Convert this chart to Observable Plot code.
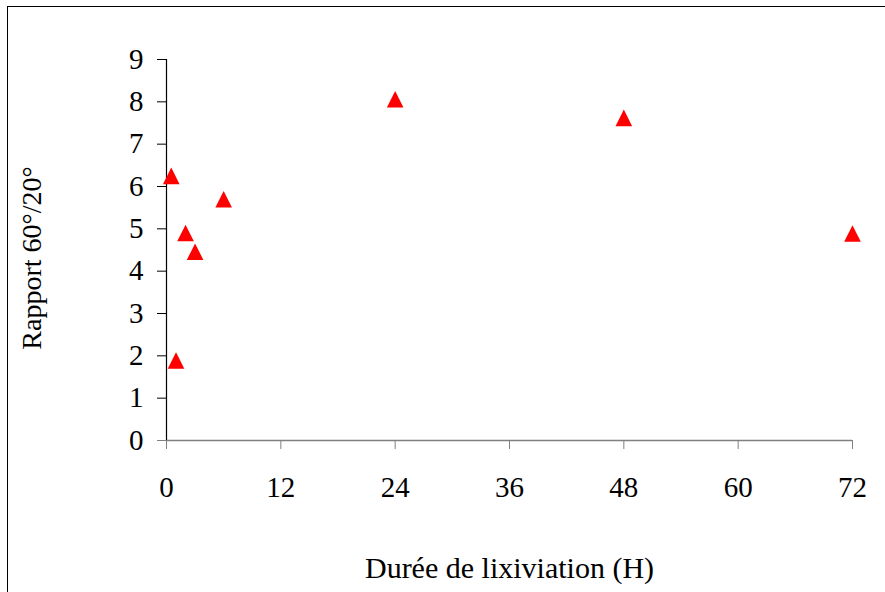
<!DOCTYPE html>
<html>
<head>
<meta charset="utf-8">
<script src="https://cdn.jsdelivr.net/npm/d3@7"></script>
<script src="https://cdn.jsdelivr.net/npm/@observablehq/plot@0.6"></script>
<style>
  html, body { margin: 0; padding: 0; background: #fff; }
  #wrap { position: relative; width: 885px; height: 592px; overflow: hidden; }
  #frame { position: absolute; left: 7px; top: 6px; width: 900px; height: 600px;
           border-left: 1.5px solid #000; border-top: 1.5px solid #000; pointer-events: none; }
</style>
</head>
<body>
<div id="wrap"><div id="frame"></div></div>
<script>
// Data
const duree   = [0.5, 1, 2, 3, 6, 24, 48, 72];               // Durée de lixiviation (H)
const rapport = [6.25, 1.89, 4.9, 4.46, 5.7, 8.06, 7.62, 4.89]; // Rapport 60°/20°
const xTicks = [0, 12, 24, 36, 48, 60, 72];
const yTicks = [0, 1, 2, 3, 4, 5, 6, 7, 8, 9];
const xTitle = "Durée de lixiviation (H)";
const yTitle = "Rapport 60°/20°";

const points = duree.map((d, i) => ({duree: d, rapport: rapport[i]}));

// Excel-like triangle marker (width = height), centered on its box
const excelTriangle = {
  draw(context, size) {
    const s = Math.sqrt(size / Math.PI) * 2;
    context.moveTo(0, -s / 2);
    context.lineTo(s / 2, s / 2);
    context.lineTo(-s / 2, s / 2);
    context.closePath();
  }
};

const font = "Liberation Serif, Tinos, DejaVu Serif, serif";

const chart = Plot.plot({
  width: 885,
  height: 592,
  marginLeft: 166,
  marginRight: 33,
  marginTop: 59,
  marginBottom: 152,
  style: { fontFamily: font, fontSize: "29px", color: "#000", background: "transparent" },
  x: { domain: [0, 72] },
  y: { domain: [0, 9] },
  marks: [
    Plot.axisY(yTicks.filter(d => d > 0), {
      tickSize: 9, tickPadding: 14, stroke: "#000", fill: "#000",
      fontSize: 29, fontFamily: font, label: null
    }),
    Plot.axisY([0], {
      tickSize: 9, tickPadding: 14, stroke: "#808080", fill: "#000",
      fontSize: 29, fontFamily: font, label: null
    }),
    Plot.axisX(xTicks, {
      tickSize: 9, tickPadding: 27, stroke: "#808080", fill: "#000",
      fontSize: 29, fontFamily: font, label: null
    }),
    Plot.ruleY([0], { stroke: "#808080", strokeWidth: 1.5 }),
    Plot.ruleX([0], { y1: 0, y2: 9, stroke: "#000", strokeWidth: 1.2 }),
    Plot.text([xTitle], {
      frameAnchor: "bottom", dy: 137, text: d => d,
      fontSize: 30, fontFamily: font, fill: "#000", lineAnchor: "bottom"
    }),
    Plot.text([yTitle], {
      frameAnchor: "left", textAnchor: "middle", dx: -145, dy: 8, rotate: -90, text: d => d,
      fontSize: 28, fontFamily: font, fill: "#000", lineAnchor: "top"
    }),
    Plot.dot(points, {
      x: "duree", y: "rapport", symbol: excelTriangle, r: 8.3,
      fill: "#ff0000", stroke: "none"
    })
  ]
});

document.getElementById("wrap").prepend(chart);
</script>
</body>
</html>
